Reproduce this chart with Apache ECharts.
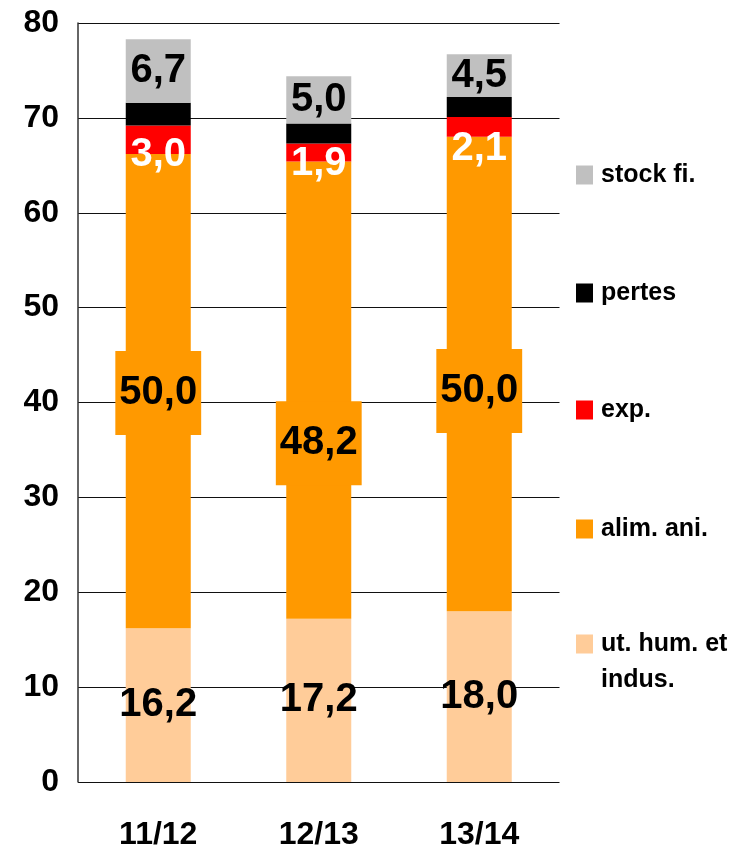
<!DOCTYPE html>
<html>
<head>
<meta charset="utf-8">
<script src="https://cdn.jsdelivr.net/npm/echarts@6/dist/echarts.min.js"></script>
<style>
html,body{margin:0;padding:0;background:#fff;}
#chart{width:746px;height:851px;}
</style>
</head>
<body>
<div id="chart"></div>
<script>
const categories = ['11/12', '12/13', '13/14'];
const utHum = [16.2, 17.2, 18.0];
const alimAni = [50.0, 48.2, 50.0];
const exp = [3.0, 1.9, 2.1];
const pertes = [2.4, 2.1, 2.1];
const stockFi = [6.7, 5.0, 4.5];
const yTicks = { min: 0, max: 80, interval: 10 };

// label shifts (pixels) as placed in the reference
const alimLabelShift = [2, 53, 17];
const expLabelShift = [15, 11, 22];

const FONT = '"Liberation Sans", Arial, sans-serif';
const fmt = p => p.value.toFixed(1).replace('.', ',');

const chart = echarts.init(document.getElementById('chart'), null, { renderer: 'canvas' });

function baseLabel(color) {
  return { show: true, position: 'inside', formatter: fmt, color: color,
           fontFamily: FONT, fontWeight: 'bold', fontSize: 40 };
}

const legendCenters = [172, 290, 407, 526];
const legendNames = ['stock fi.', 'pertes', 'exp.', 'alim. ani.'];
const legends = legendNames.map((n, i) => ({
  data: [{ name: n, icon: 'rect' }], left: 576, top: legendCenters[i] - 9.5, orient: 'vertical',
  padding: 0, itemWidth: 17, itemHeight: 19, itemGap: 0, selectedMode: false,
  textStyle: { fontFamily: FONT, fontWeight: 'bold', fontSize: 25, color: '#000', lineHeight: 19, padding: [0,0,0,3] }
}));
legends.push({
  data: [{ name: 'ut. hum. et\nindus.', icon: 'path://M0,8.5h17v19h-17z M0,0h0.1v0.1h-0.1z M0,71.9h0.1v0.1h-0.1z' }],
  left: 576, top: 644 - 18, orient: 'vertical', padding: 0, itemWidth: 17, itemHeight: 72,
  selectedMode: false,
  textStyle: { fontFamily: FONT, fontWeight: 'bold', fontSize: 25, color: '#000', lineHeight: 36, padding: [0,0,0,3] }
});

const option = {
  backgroundColor: '#fff',
  animation: false,
  legend: legends,
  grid: { left: 78, right: 186.5, top: 23, bottom: 66, containLabel: false },
  xAxis: {
    type: 'category', data: categories,
    axisLine: { show: false }, axisTick: { show: false },
    axisLabel: { margin: 37, fontFamily: FONT, fontWeight: 'bold', fontSize: 32, color: '#000' }
  },
  yAxis: {
    type: 'value', min: yTicks.min, max: yTicks.max, interval: yTicks.interval,
    axisLine: { show: true, lineStyle: { color: '#333', width: 1.5 } },
    axisTick: { show: false },
    splitLine: { show: true, lineStyle: { color: '#111', width: 1.2 } },
    axisLabel: { margin: 19, fontFamily: FONT, fontWeight: 'bold', fontSize: 32, color: '#000' }
  },
  series: [
    { name: 'ut. hum. et\nindus.', type: 'bar', stack: 's', barWidth: 65, data: utHum,
      itemStyle: { color: '#FFCC99' }, label: baseLabel('#000') },
    { name: 'alim. ani.', type: 'bar', stack: 's', barWidth: 65,
      data: alimAni.map((v, i) => ({ value: v, label: { offset: [0, alimLabelShift[i]] } })),
      itemStyle: { color: '#FF9900' },
      label: Object.assign(baseLabel('#000'), { backgroundColor: '#FF9900', padding: [22, 4], lineHeight: 40 }) },
    { name: 'exp.', type: 'bar', stack: 's', barWidth: 65,
      data: exp.map((v, i) => ({ value: v, label: { offset: [0, expLabelShift[i]] } })),
      itemStyle: { color: '#FF0000' }, label: baseLabel('#fff') },
    { name: 'pertes', type: 'bar', stack: 's', barWidth: 65, data: pertes,
      itemStyle: { color: '#000000' } },
    { name: 'stock fi.', type: 'bar', stack: 's', barWidth: 65, data: stockFi,
      itemStyle: { color: '#C0C0C0' }, label: baseLabel('#000') }
  ]
};
chart.setOption(option);
</script>
</body>
</html>
